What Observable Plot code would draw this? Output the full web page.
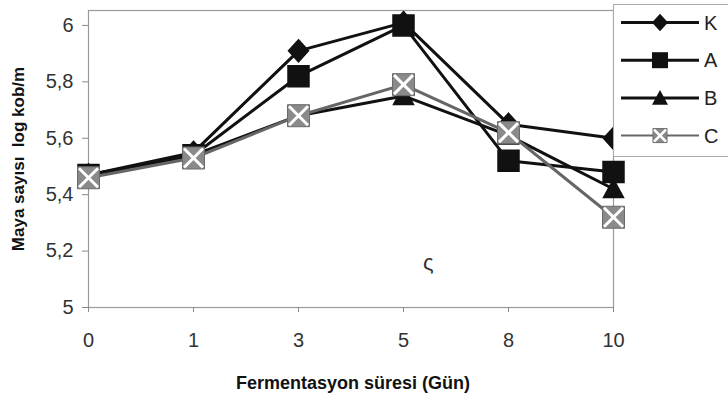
<!DOCTYPE html>
<html><head><meta charset="utf-8">
<script src="https://cdn.jsdelivr.net/npm/d3@7"></script>
<script src="https://cdn.jsdelivr.net/npm/@observablehq/plot@0.6"></script>
<style>
body{margin:0;background:#fff;font-family:"Liberation Sans",Arial,sans-serif}
#wrap{position:relative;width:728px;height:397px;overflow:hidden;background:#fff}
#ytitle{position:absolute;left:19px;top:159px;transform:translate(-50%,-50%) rotate(-90deg);white-space:pre;font-weight:bold;font-size:17px;color:#111}
#xtitle{position:absolute;left:353px;top:383px;transform:translate(-50%,-50%);white-space:pre;font-weight:bold;font-size:18px;color:#111}
#stray{position:absolute;left:423px;top:250px;font-size:22px;line-height:26px;color:#333}
#legend{position:absolute;left:613px;top:4px}
</style></head><body><div id="wrap"></div>
<script>
const days = ["0","1","3","5","8","10"];
const seriesNames = ["K","A","B","C"];
const K = [5.47,5.55,5.91,6.01,5.65,5.60];
const A = [5.47,5.54,5.82,6.00,5.52,5.48];
const B = [5.47,5.54,5.68,5.75,5.61,5.42];
const C = [5.46,5.53,5.68,5.79,5.62,5.32];
const yTicks = [5,5.2,5.4,5.6,5.8,6];
const xTitle = "Fermentasyon süresi (Gün)";
const yTitle = "Maya sayısı  log kob/m";
const strayText = "ς";

const values = {K, A, B, C};
const data = seriesNames.flatMap(s => days.map((d, i) => ({series: s, day: d, v: values[s][i]})));

const rad = size => Math.sqrt(size / Math.PI);
const symDiamond = {draw(c, size){const r = rad(size); c.moveTo(0,-r*1.1); c.lineTo(r,0); c.lineTo(0,r*1.1); c.lineTo(-r,0); c.closePath();}};
const symSquare = {draw(c, size){const r = rad(size); c.rect(-r,-r,2*r,2*r);}};
const symTriangle = {draw(c, size){const r = rad(size); c.moveTo(0,-r); c.lineTo(r,r*0.85); c.lineTo(-r,r*0.85); c.closePath();}};
const symX = {draw(c, size){const r = rad(size); c.moveTo(-r,-r); c.lineTo(r,r); c.moveTo(r,-r); c.lineTo(-r,r);}};

const style = {
  K: {line:"#111", w:3, sym: symDiamond, r: 10},
  A: {line:"#111", w:3, sym: symSquare, r: 10.5},
  B: {line:"#111", w:3, sym: symTriangle, r: 10},
  C: {line:"#666", w:3, sym: symSquare, r: 11}
};

const marks = [
  Plot.frame({stroke:"#9a9a9a", strokeWidth:1.2}),
  Plot.axisY({ticks: yTicks, tickFormat: d => String(d).replace(".", ","), tickSize: 6, tickPadding: 9, label: null, stroke:"#888", fill:"#333", fontSize: 20}),
  Plot.axisX({tickSize: 5, tickPadding: 20, label: null, stroke:"#888", fill:"#333", fontSize: 20})
];
for (const s of seriesNames) {
  const d = data.filter(o => o.series === s);
  const st = style[s];
  marks.push(Plot.line(d, {x:"day", y:"v", stroke: st.line, strokeWidth: st.w}));
  if (s === "C") {
    marks.push(Plot.dot(d, {x:"day", y:"v", symbol: st.sym, r: st.r, fill:"#8a8a8a", stroke:"#6a6a6a", strokeWidth:1}));
    marks.push(Plot.dot(d, {x:"day", y:"v", symbol: symX, r: 9.5, stroke:"#fff", strokeWidth:3}));
  } else {
    marks.push(Plot.dot(d, {x:"day", y:"v", symbol: st.sym, r: st.r, fill:"#111", stroke:"#111"}));
  }
}

const chart = Plot.plot({
  width: 728, height: 397,
  marginLeft: 88, marginRight: 115, marginTop: 10, marginBottom: 90,
  x: {type:"point", domain: days, padding: 0, axis: null},
  y: {domain: [5, 6.053], axis: null},
  style: {fontFamily:"'Liberation Sans', Arial, sans-serif", fontSize:"20px", background:"#fff", overflow:"visible"},
  marks
});
const wrap = document.getElementById("wrap");
wrap.appendChild(chart);

const yt = document.createElement("div"); yt.id = "ytitle"; yt.textContent = yTitle; wrap.appendChild(yt);
const xt = document.createElement("div"); xt.id = "xtitle"; xt.textContent = xTitle; wrap.appendChild(xt);
const st9 = document.createElement("div"); st9.id = "stray"; st9.textContent = strayText; wrap.appendChild(st9);

// Legend
const lg = d3.select(wrap).append("svg").attr("id","legend").attr("width",116).attr("height",154);
lg.append("rect").attr("x",0.5).attr("y",0.5).attr("width",130).attr("height",152).attr("fill","#fff").attr("stroke","#aaa");
const gen = (sym, r) => d3.symbol(sym, r*r*Math.PI)();
seriesNames.forEach((s, i) => {
  const y = 18.5 + i*37.7;
  const st = style[s];
  const g = lg.append("g").attr("transform", `translate(0,${y})`);
  g.append("line").attr("x1",8).attr("x2",86).attr("stroke", st.line).attr("stroke-width", s === "C" ? 2 : 3);
  const m = g.append("g").attr("transform","translate(47,0)");
  if (s === "C") {
    m.append("path").attr("d", gen(symSquare, 7)).attr("fill","#8a8a8a").attr("stroke","#6a6a6a");
    m.append("path").attr("d", gen(symX, 6)).attr("stroke","#fff").attr("stroke-width",2.5).attr("fill","none");
  } else {
    m.append("path").attr("d", gen(st.sym, 8)).attr("fill","#111");
  }
  g.append("text").attr("x",91).attr("y",0).attr("dy","0.36em").attr("font-size",20).attr("fill","#222")
    .attr("font-family","'Liberation Sans', Arial, sans-serif").text(s);
});
</script></body></html>
